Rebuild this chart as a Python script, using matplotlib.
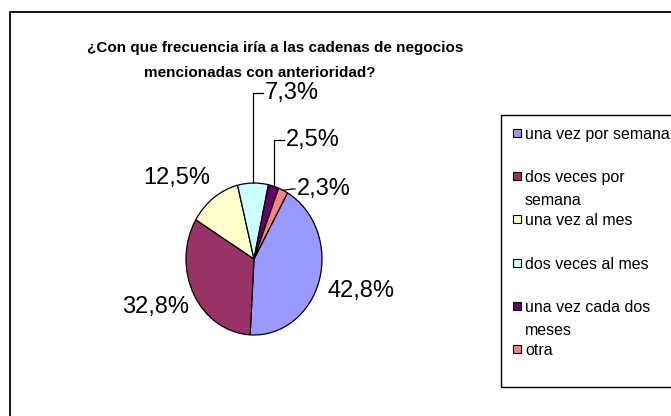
import matplotlib
matplotlib.use("Agg")
import matplotlib.pyplot as plt
from matplotlib.patches import Rectangle
from matplotlib.lines import Line2D
from matplotlib import font_manager
import numpy as np

# ---- data ----
categories = ["una vez por semana", "dos veces por semana", "una vez al mes",
              "dos veces al mes", "una vez cada dos meses", "otra"]
legend_labels = ["una vez por semana", "dos veces por\nsemana", "una vez al mes",
                 "dos veces al mes", "una vez cada dos\nmeses", "otra"]
values = [42.8, 32.8, 12.5, 7.3, 2.5, 2.3]
value_labels = ["42,8%", "32,8%", "12,5%", "7,3%", "2,5%", "2,3%"]
title_lines = ["¿Con que frecuencia iría a las cadenas de negocios",
               "mencionadas con anterioridad?"]
colors = ["#9999FF", "#993366", "#FFFFCC", "#CCFFFF", "#660066", "#FF8080"]

# ---- layout / style ----
W, H = 671, 416
plt.rcParams['font.family'] = ['Liberation Sans', 'DejaVu Sans']
fig = plt.figure(figsize=(W / 100, H / 100), dpi=100)
fig.patch.set_facecolor('white')

installed = {f.name for f in font_manager.fontManager.ttflist}
if 'Liberation Sans Narrow' in installed:
    title_family, title_size = ['Liberation Sans Narrow', 'DejaVu Sans'], 13.3
else:
    title_family, title_size = ['Liberation Sans', 'DejaVu Sans'], 11.0


def fx(x):
    return x / W


def fy(y):
    return 1 - y / H


# outer chart frame (runs off right/bottom)
fig.add_artist(Rectangle((fx(10), fy(440)), fx(700) - fx(10), fy(12) - fy(440),
                         transform=fig.transFigure, fill=False, edgecolor='black',
                         linewidth=1.3, clip_on=False))

# title
title_pos = [(275, 48), (260, 73)]
for line, (tx, ty) in zip(title_lines, title_pos):
    fig.text(fx(tx), fy(ty), line, ha='center', va='center', fontsize=title_size,
             fontweight='bold', color='black', family=title_family)

# pie (slightly elliptical like the original)
ax = fig.add_axes([fx(186), fy(335), 136 / W, 152 / H])
wedges, _ = ax.pie(values, colors=colors, startangle=60.5, counterclock=False,
                   wedgeprops=dict(edgecolor='black', linewidth=0.9))
for w in wedges:
    w.set_clip_on(False)
ax.set_aspect('auto')
ax.set_xlim(-1, 1)
ax.set_ylim(-1, 1)
ax.axis('off')

# data labels
label_pos = [(361, 291), (156, 307), (177, 178), (265, 93), (286, 140), (297, 189)]
label_ha = ['center', 'center', 'center', 'left', 'left', 'left']
elbows = [None, None, None, 'v', 'v', (292, 189)]
for i, (w, s) in enumerate(zip(wedges, value_labels)):
    lx, ly = label_pos[i]
    fig.text(fx(lx), fy(ly), s, ha=label_ha[i], va='center', fontsize=17,
             color='black')
    if elbows[i] is not None:
        th = np.deg2rad((w.theta1 + w.theta2) / 2)
        px, py = ax.transData.transform((np.cos(th), np.sin(th)))
        py = H - py
        if elbows[i] == 'v':
            ex, ey = px, ly
        else:
            ex, ey = elbows[i]
        xs = [px, ex, lx - 2]
        ys = [py, ey, ly]
        fig.add_artist(Line2D([fx(v) for v in xs], [fy(v) for v in ys],
                              transform=fig.transFigure, color='black',
                              linewidth=0.9))

# legend box
fig.add_artist(Rectangle((fx(501), fy(387)), fx(700) - fx(501), fy(115) - fy(387),
                         transform=fig.transFigure, fill=False, edgecolor='black',
                         linewidth=1.0, clip_on=False))
entry_y0, entry_dy, line_dy = 133, 43.2, 23
for i, (lab, c) in enumerate(zip(legend_labels, colors)):
    yc = entry_y0 + i * entry_dy
    fig.add_artist(Rectangle((fx(513), fy(yc + 4)), 8 / W, 8 / H,
                             transform=fig.transFigure, facecolor=c,
                             edgecolor='black', linewidth=0.8))
    for j, part in enumerate(lab.split("\n")):
        fig.text(fx(525), fy(yc + j * line_dy), part, ha='left',
                 va='center_baseline', fontsize=11.5, color='black')

fig.savefig("out.png", dpi=100)
